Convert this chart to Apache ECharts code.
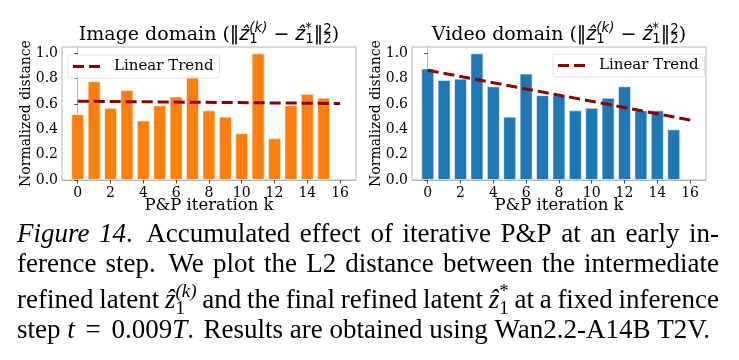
<!DOCTYPE html>
<html>
<head>
<meta charset="utf-8">
<script src="https://cdn.jsdelivr.net/npm/echarts@6/dist/echarts.min.js"></script>
<style>
  html, body { margin: 0; padding: 0; background: #fff; }
  #main { width: 739px; height: 360px; }
</style>
</head>
<body>
<div id="main"></div>
<script>
// data
const iterK = [0, 1, 2, 3, 4, 5, 6, 7, 8, 9, 10, 11, 12, 13, 14, 15]
const imageDist = [0.52, 0.78, 0.57, 0.71, 0.47, 0.59, 0.66, 0.83, 0.55, 0.50, 0.37, 1.00, 0.33, 0.59, 0.68, 0.65]
const videoDist = [0.88, 0.79, 0.80, 1.00, 0.74, 0.50, 0.84, 0.67, 0.67, 0.55, 0.57, 0.65, 0.74, 0.55, 0.55, 0.40]
const trendK = [0, 16]
const imageTrend = [0.622, 0.604]
const videoTrend = [0.866, 0.474]
const xTicks = [0, 2, 4, 6, 8, 10, 12, 14, 16]
const yTicks = [0, 0.2, 0.4, 0.6, 0.8, 1.0]

// text measuring, so mixed fonts (math) can sit on one baseline
const meas = document.createElement('canvas').getContext('2d')
function textW(t, font) {
  meas.font = font
  return meas.measureText(t).width
}
function midToBase(font) {
  meas.font = font
  meas.textBaseline = 'middle'
  let m = meas.measureText('x')
  meas.textBaseline = 'alphabetic'
  return m.actualBoundingBoxDescent
}
function segW(s) {
  if (s.sup !== undefined) return Math.max(textW(s.sup, s.supFont), textW(s.sub, s.subFont))
  return textW(s.t, s.font)
}
function txt(t, font, x, base) {
  return {
    type: 'text', x: x, y: base - midToBase(font), silent: true,
    style: {text: t, font: font, fill: '#000', align: 'left', verticalAlign: 'middle'}
  }
}
function words(str, font) {
  return str.split(' ').map(t => [{t: t, font: font}])
}
function gapWeight(w) {
  let last = w[w.length - 1]
  if (last.g) return last.g
  return /\.$/.test(last.t || '') ? 1.4 : 1
}
function layoutLine(ws, opt) {
  let widths = ws.map(w => w.reduce((a, s) => a + segW(s), 0))
  let weights = ws.slice(0, -1).map(gapWeight)
  let total = widths.reduce((a, b) => a + b, 0)
  let wsum = weights.reduce((a, b) => a + b, 0)
  let gap = textW(' ', opt.spaceFont)
  let x = opt.x0
  if (opt.align === 'justify') {
    gap = (opt.x1 - opt.x0 - total) / wsum
  } else if (opt.align === 'center') {
    x = opt.cx - (total + gap * wsum) / 2
  }
  let els = []
  ws.forEach((w, i) => {
    w.forEach(s => {
      if (s.sup !== undefined) {
        els.push(txt(s.sup, s.supFont, x, opt.base - s.supUp))
        els.push(txt(s.sub, s.subFont, x, opt.base + s.subDown))
      } else {
        els.push(txt(s.t, s.font, x, opt.base))
      }
      x += segW(s)
    })
    if (i < weights.length) x += gap * weights[i]
  })
  return els
}

// titles
const TF = '19px "DejaVu Serif"'
const TS = '19px "DejaVu Sans"'
const TM = 'italic 19px "DejaVu Sans"'
const TSS = '13.3px "DejaVu Sans"'
const TSI = 'italic 13.3px "DejaVu Sans"'
function titleWords(name) {
  return words(name, TF).concat([
    [{t: '(', font: TF}, {t: '‖', font: TS}, {t: 'ẑ', font: TM},
      {sup: '(k)', supFont: TSI, sub: '1', subFont: TSS, supUp: 8, subDown: 3}],
    [{t: '−', font: TS}],
    [{t: 'ẑ', font: TM}, {sup: '*', supFont: TSS, sub: '1', subFont: TSS, supUp: 8, subDown: 3},
      {t: '‖', font: TS}, {sup: '2', supFont: TSS, sub: '2', subFont: TSS, supUp: 7, subDown: 3},
      {t: ')', font: TF}]
  ])
}

// caption
const CR = '27px "Liberation Serif"'
const CI = 'italic 27px "Liberation Serif"'
const CSS = '19px "Liberation Serif"'
const CSI = 'italic 19px "Liberation Serif"'
const capLines = [
  [[{t: 'Figure', font: CI}], [{t: '14', font: CI}, {t: '.', font: CR}]]
    .concat(words('Accumulated effect of iterative P&P at an early in-', CR)),
  words('ference step. We plot the L2 distance between the intermediate', CR),
  words('refined latent', CR)
    .concat([[{t: 'ẑ', font: CI}, {sup: '(k)', supFont: CSI, sub: '1', subFont: CSS, supUp: 11, subDown: 6}]])
    .concat(words('and the final refined latent', CR))
    .concat([[{t: 'ẑ', font: CI}, {sup: '*', supFont: CSS, sub: '1', subFont: CSS, supUp: 11, subDown: 6}]])
    .concat(words('at a fixed inference', CR)),
  [[{t: 'step', font: CR}], [{t: 't', font: CI, g: 1.6}], [{t: '=', font: CR, g: 1.6}],
    [{t: '0.009', font: CR}, {t: 'T', font: CI}, {t: '.', font: CR}]]
    .concat(words('Results are obtained using Wan2.2-A14B T2V.', CR))
]
const capBase = [241.7, 271.7, 307.7, 337.7]

let graphics = []
graphics = graphics.concat(layoutLine(titleWords('Image domain'), {align: 'center', cx: 209, base: 40, spaceFont: TF}))
graphics = graphics.concat(layoutLine(titleWords('Video domain'), {align: 'center', cx: 559, base: 40, spaceFont: TF}))
capLines.forEach((ln, i) => {
  graphics = graphics.concat(layoutLine(ln, {
    align: i < 3 ? 'justify' : 'left', x0: 17, x1: 719, base: capBase[i], spaceFont: CR
  }))
})

const serif = 'DejaVu Serif'
function xAx(i) {
  return {
    type: 'value', gridIndex: i, min: -0.96, max: 16.97,
    axisLine: {show: true, lineStyle: {color: '#b5b5b5'}},
    axisTick: {show: true, length: 3.5, customValues: xTicks, lineStyle: {color: '#444'}},
    axisLabel: {customValues: xTicks, margin: 6, fontFamily: serif, fontSize: 14, color: '#000'},
    splitLine: {show: false},
    name: 'P&P iteration k', nameLocation: 'middle', nameGap: 17, nameMoveOverlap: false,
    nameTextStyle: {fontFamily: serif, fontSize: 16.5, color: '#000'}
  }
}
function yAx(i) {
  return {
    type: 'value', gridIndex: i, min: 0, max: 1.05,
    axisLine: {show: true, lineStyle: {color: '#b5b5b5'}},
    axisTick: {show: true, length: 3.5, customValues: yTicks, lineStyle: {color: '#444'}},
    axisLabel: {customValues: yTicks, margin: 4, fontFamily: serif, fontSize: 14, color: '#000',
      formatter: v => v.toFixed(1)},
    splitLine: {show: false},
    name: 'Normalized distance', nameLocation: 'middle', nameRotate: 90, nameGap: 28.5, nameMoveOverlap: false,
    nameTextStyle: {fontFamily: serif, fontSize: 14, color: '#000'}
  }
}
function legendAt(left, top) {
  return {
    data: ['Linear Trend'], left: left, top: top, orient: 'horizontal',
    // two dashes of the trend line
    icon: 'path://M0,0H11V3H0Z M16,0H27V3H16Z',
    itemWidth: 27, itemHeight: 3,
    padding: [4, 6, 4, 5],
    backgroundColor: 'rgba(255,255,255,0.8)', borderColor: '#e2e2e2', borderWidth: 1, borderRadius: 3,
    itemStyle: {color: '#8b0000'},
    textStyle: {fontFamily: serif, fontSize: 15, color: '#000', padding: [0, 0, 0, 9]},
    selectedMode: false
  }
}
function bars(i, vals, color) {
  return {
    type: 'bar', xAxisIndex: i, yAxisIndex: i, barWidth: 13,
    data: iterK.map((k, j) => [k, vals[j]]),
    itemStyle: {color: color, borderColor: 'rgba(255,255,255,0.55)', borderWidth: 1}
  }
}
function trend(i, vals) {
  return {
    type: 'line', name: 'Linear Trend', xAxisIndex: i, yAxisIndex: i, z: 3,
    data: trendK.map((k, j) => [k, vals[j]]),
    symbol: 'none', itemStyle: {color: '#8b0000'},
    lineStyle: {color: '#8b0000', width: 3, type: [11, 5]}
  }
}

let chart = echarts.init(document.getElementById('main'), null, {renderer: 'canvas'})
chart.setOption({
  animation: false,
  backgroundColor: '#fff',
  grid: [
    {left: 62, top: 47, width: 294, height: 133, show: true, borderColor: '#b5b5b5', borderWidth: 1},
    {left: 412, top: 47, width: 294, height: 133, show: true, borderColor: '#b5b5b5', borderWidth: 1}
  ],
  xAxis: [xAx(0), xAx(1)],
  yAxis: [yAx(0), yAx(1)],
  legend: [legendAt(68, 55), legendAt(553, 54)],
  series: [
    bars(0, imageDist, '#ff7f0e'),
    trend(0, imageTrend),
    bars(1, videoDist, '#1f77b4'),
    trend(1, videoTrend)
  ],
  graphic: graphics
})
</script>
</body>
</html>
